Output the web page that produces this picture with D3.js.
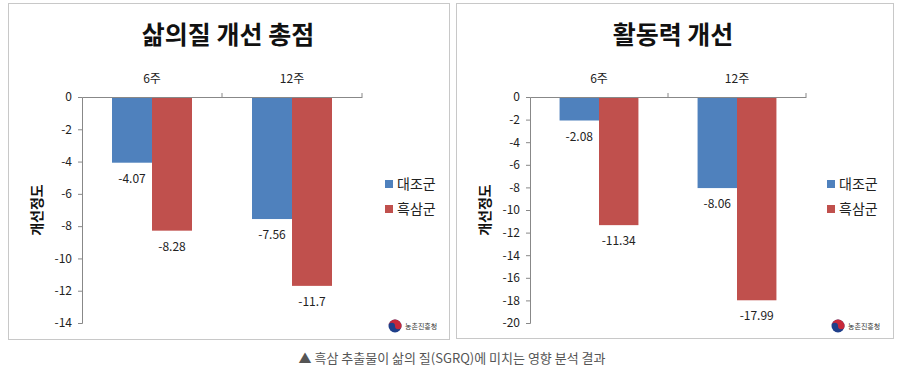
<!DOCTYPE html>
<html>
<head>
<meta charset="utf-8">
<script src="https://cdn.jsdelivr.net/npm/d3@7"></script>
<style>
  body { margin: 0; background: #fff; }
  text { font-family: "Noto Sans CJK KR", "DejaVu Sans", sans-serif; }
</style>
</head>
<body>
<script>
// data
var categories = ["6주", "12주"];
var seriesNames = ["대조군", "흑삼군"];
var seriesColors = ["#4F81BD", "#C0504D"];

var qolTitle = "삶의질 개선 총점";
var qolControl = [-4.07, -7.56];
var qolBlackGinseng = [-8.28, -11.7];
var qolTicks = [0, -2, -4, -6, -8, -10, -12, -14];

var actTitle = "활동력 개선";
var actControl = [-2.08, -8.06];
var actBlackGinseng = [-11.34, -17.99];
var actTicks = [0, -2, -4, -6, -8, -10, -12, -14, -16, -18, -20];

var yLabel = "개선정도";
var caption = "▲ 흑삼 추출물이 삶의 질(SGRQ)에 미치는 영향 분석 결과";

var width = 897, height = 368;

var svg = d3.select("body").append("svg")
  .attr("width", width)
  .attr("height", height);

function drawPanel(p) {
  var g = svg.append("g");

  // panel frame
  g.append("rect")
    .attr("x", p.box[0] + 0.5).attr("y", p.box[1] + 0.5)
    .attr("width", p.box[2]).attr("height", p.box[3])
    .attr("fill", "#fff").attr("stroke", "#c8c8c8");

  // title
  g.append("text")
    .attr("x", p.titleX).attr("y", 44)
    .attr("text-anchor", "middle")
    .attr("font-size", 25).attr("font-weight", "bold")
    .attr("fill", "#111")
    .text(p.title);

  var x = d3.scaleBand().domain(categories).range([p.left, p.right]);
  var xInner = d3.scaleBand().domain(seriesNames)
    .range([0, x.bandwidth()]).paddingOuter(0.75).paddingInner(0);
  var y = d3.scaleLinear().domain([0, p.min]).range([97, 323]);

  // y axis, plain hyphen minus like the original
  var yAxis = d3.axisLeft(y).tickValues(p.ticks).tickSize(4).tickPadding(6)
    .tickFormat(function (d) { return String(d); });
  var ya = g.append("g").attr("transform", "translate(" + p.left + ",0)").call(yAxis);
  ya.select(".domain").attr("stroke", "#888");
  ya.selectAll(".tick line").attr("stroke", "#888");
  ya.selectAll("text").attr("font-size", 12).attr("fill", "#222")
    .attr("font-family", "'DejaVu Sans', sans-serif");

  // bars
  var rows = categories.map(function (c, i) {
    return [{cat: c, s: seriesNames[0], v: p.a[i], col: seriesColors[0]},
            {cat: c, s: seriesNames[1], v: p.b[i], col: seriesColors[1]}];
  });
  var flat = [].concat.apply([], rows);

  g.selectAll("rect.bar").data(flat).enter().append("rect")
    .attr("class", "bar")
    .attr("x", function (d) { return x(d.cat) + xInner(d.s); })
    .attr("y", y(0))
    .attr("width", xInner.bandwidth())
    .attr("height", function (d) { return y(d.v) - y(0); })
    .attr("fill", function (d) { return d.col; });

  g.selectAll("text.lbl").data(flat).enter().append("text")
    .attr("class", "lbl")
    .attr("x", function (d) { return x(d.cat) + xInner(d.s) + xInner.bandwidth() / 2; })
    .attr("y", function (d) { return y(d.v) + 20; })
    .attr("text-anchor", "middle")
    .attr("font-size", 12)
    .attr("font-family", "'DejaVu Sans', sans-serif")
    .attr("fill", "#222")
    .text(function (d) { return String(d.v); });

  // x axis on top
  var xAxis = d3.axisTop(x).tickSize(0).tickPadding(14);
  var xa = g.append("g").attr("transform", "translate(0," + y(0) + ")").call(xAxis);
  xa.select(".domain").attr("stroke", "#888");
  xa.selectAll("text").attr("font-size", 12).attr("fill", "#222");
  xa.selectAll("line.sep").data(x.domain()).enter().append("line")
    .attr("x1", function (d) { return x(d) + x.bandwidth(); })
    .attr("x2", function (d) { return x(d) + x.bandwidth(); })
    .attr("y1", 0).attr("y2", -4)
    .attr("stroke", "#888");

  // y label
  g.append("text")
    .attr("transform", "translate(" + (p.yLabelX) + ",210) rotate(-90)")
    .attr("text-anchor", "middle")
    .attr("font-size", 14).attr("font-weight", "bold")
    .attr("fill", "#111")
    .text(yLabel);

  // legend
  var lg = g.append("g").attr("transform", "translate(" + p.legendX + ",184)");
  seriesNames.forEach(function (s, i) {
    lg.append("rect").attr("x", 0).attr("y", i * 25 - 4)
      .attr("width", 8).attr("height", 8).attr("fill", seriesColors[i]);
    lg.append("text").attr("x", 12).attr("y", i * 25 + 5)
      .attr("font-size", 14).attr("fill", "#222").text(s);
  });

  // agency logo
  var lo = g.append("g").attr("transform", "translate(" + p.logoX + ",326)");
  lo.append("circle").attr("r", 6.5).attr("fill", "#1f3f8a");
  lo.append("path")
    .attr("d", "M-6.5,0 A6.5,6.5 0 0,1 6.5,0 A3.25,3.25 0 0,1 0,0 A3.25,3.25 0 0,0 -6.5,0 Z")
    .attr("fill", "#c8283a");
  lo.append("text").attr("x", 10).attr("y", 2.5)
    .attr("font-size", 7).attr("fill", "#333").text("농촌진흥청");
}

drawPanel({
  box: [8, 3, 441, 336], title: qolTitle, titleX: 228,
  left: 82, right: 362, min: -14, ticks: qolTicks,
  a: qolControl, b: qolBlackGinseng,
  yLabelX: 42, legendX: 385, logoX: 395
});

drawPanel({
  box: [456, 3, 437, 335], title: actTitle, titleX: 673,
  left: 530, right: 806, min: -20, ticks: actTicks,
  a: actControl, b: actBlackGinseng,
  yLabelX: 490, legendX: 827, logoX: 838
});

// caption
svg.append("text")
  .attr("x", 452).attr("y", 363)
  .attr("text-anchor", "middle")
  .attr("font-size", 13).attr("fill", "#555")
  .text(caption);
</script>
</body>
</html>
